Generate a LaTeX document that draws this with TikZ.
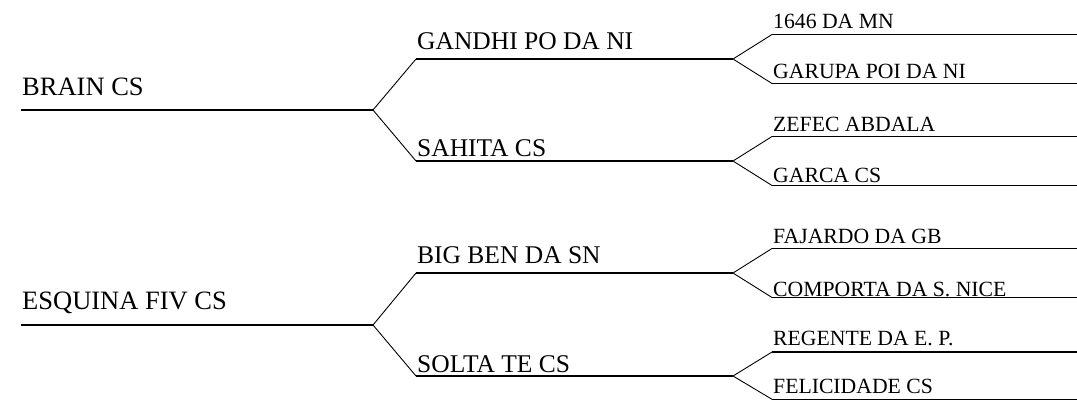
\documentclass[tikz,border=0pt]{standalone}
\usepackage{fontspec}
\setmainfont{Liberation Serif}
\begin{document}
\begin{tikzpicture}[x=1pt,y=-1pt,
  lbl/.style={inner sep=0pt,anchor=base west},
  lone/.style={lbl,font=\fontsize{26.5}{27}\selectfont},
  ltwo/.style={lbl,font=\fontsize{25.5}{26}\selectfont},
  lthree/.style={lbl,font=\fontsize{21.7}{22}\selectfont},
  hone/.style={line width=1.7pt},
  htwo/.style={line width=1.6pt},
  hthree/.style={line width=1.1pt},
  diag/.style={line width=0.9pt}]
\useasboundingbox (0,0) rectangle (1077,400);
% ---- top tree ----
\coordinate (r1s) at (21,110); \coordinate (r1e) at (373,110);
\coordinate (a1s) at (416,59);  \coordinate (a1e) at (733,59);
\coordinate (a2s) at (416,161); \coordinate (a2e) at (733,161);
\coordinate (l1s) at (772,34.5);  \coordinate (l1e) at (1077,34.5);
\coordinate (l2s) at (772,83.5);  \coordinate (l2e) at (1077,83.5);
\coordinate (l3s) at (772,136.5); \coordinate (l3e) at (1077,136.5);
\coordinate (l4s) at (772,185.5); \coordinate (l4e) at (1077,185.5);
% ---- bottom tree ----
\coordinate (r2s) at (21,325); \coordinate (r2e) at (373,325);
\coordinate (b1s) at (416,273); \coordinate (b1e) at (733,273);
\coordinate (b2s) at (416,376); \coordinate (b2e) at (733,376);
\coordinate (m1s) at (772,248.5); \coordinate (m1e) at (1077,248.5);
\coordinate (m2s) at (772,297.5); \coordinate (m2e) at (1077,297.5);
\coordinate (m3s) at (772,352);   \coordinate (m3e) at (1077,352);
\coordinate (m4s) at (772,399.3); \coordinate (m4e) at (1077,399.3);

% lines
\draw[hone] (r1s) -- (r1e);
\draw[hone] (r2s) -- (r2e);
\draw[htwo] (a1s) -- (a1e);
\draw[htwo] (a2s) -- (a2e);
\draw[htwo] (b1s) -- (b1e);
\draw[htwo] (b2s) -- (b2e);
\foreach \n in {l1,l2,l3,l4,m1,m2,m3,m4} {\draw[hthree] (\n s) -- (\n e);}
% forks
\draw[diag] (a1s) -- (r1e) -- (a2s);
\draw[diag] (b1s) -- (r2e) -- (b2s);
\draw[diag] (l1s) -- (a1e) -- (l2s);
\draw[diag] (l3s) -- (a2e) -- (l4s);
\draw[diag] (m1s) -- (b1e) -- (m2s);
\draw[diag] (m3s) -- (b2e) -- (m4s);

% labels
\node[lone] (t1) at (22,95) {BRAIN CS};
\node[lone] (t2) at (22,309) {ESQUINA FIV CS};
\node[ltwo] (u1) at (417,49) {GANDHI PO DA NI};
\node[ltwo] (u2) at (417,156) {SAHITA CS};
\node[ltwo] (u3) at (417,263) {BIG BEN DA SN};
\node[ltwo] (u4) at (417,372) {SOLTA TE CS};
\node[lthree] (v1) at (773,28) {1646 DA MN};
\node[lthree] (v2) at (773,78) {GARUPA POI DA NI};
\node[lthree] (v3) at (773,131) {ZEFEC ABDALA};
\node[lthree] (v4) at (773,182) {GARCA CS};
\node[lthree] (v5) at (773,243) {FAJARDO DA GB};
\node[lthree] (v6) at (773,296) {COMPORTA DA S. NICE};
\node[lthree] (v7) at (773,345) {REGENTE DA E. P.};
\node[lthree] (v8) at (773,393) {FELICIDADE CS};
\end{tikzpicture}
\end{document}
